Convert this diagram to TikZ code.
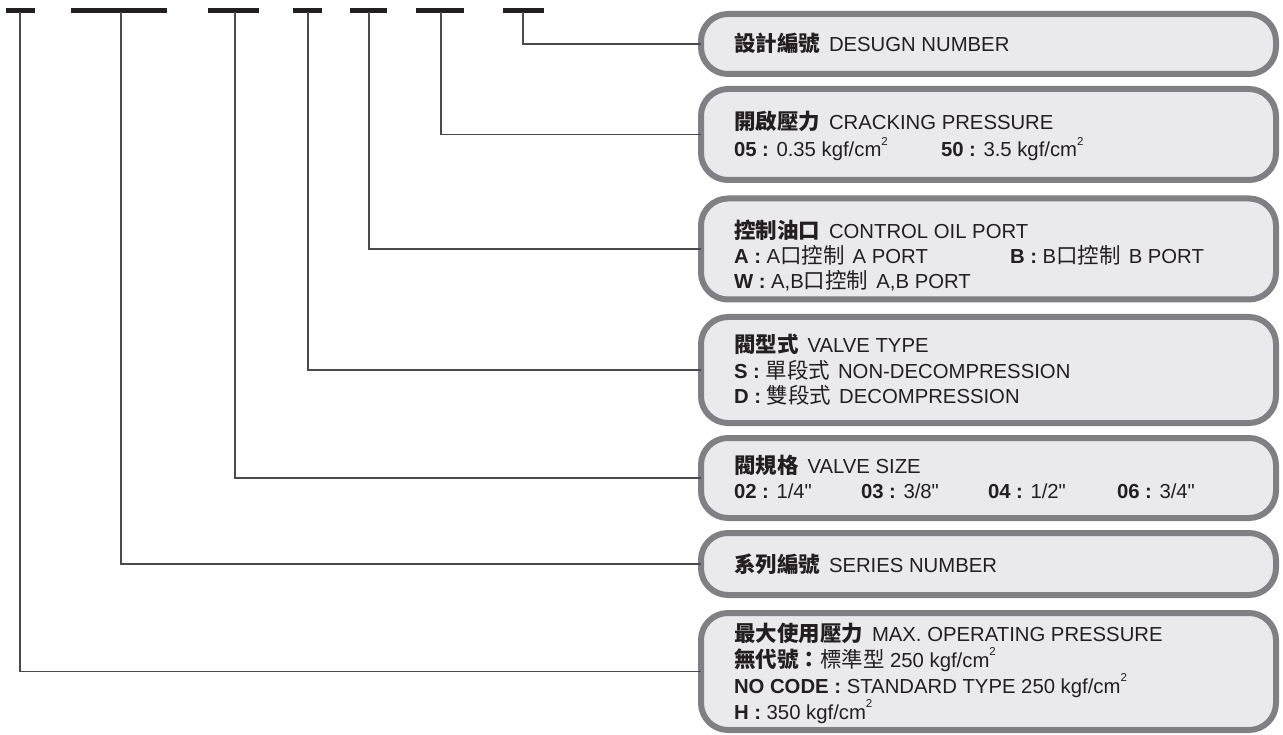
\documentclass[tikz,border=0pt]{standalone}
\usepackage{fontspec}
\setmainfont{Liberation Sans}
\newfontfamily\cjk{Noto Sans CJK TC}
\newfontfamily\inchfont{Liberation Sans}
\definecolor{boxfill}{HTML}{EAEAEC}
\definecolor{boxline}{HTML}{808084}
\definecolor{ink}{HTML}{231F20}
\definecolor{connc}{HTML}{4A4A4A}
\newcommand\zh[1]{{\cjk\fontsize{21.5}{24}\selectfont #1}}
\newcommand\sqr{\raisebox{0.55em}{\fontsize{11.5}{11.5}\selectfont 2}}
\newcommand\inch{{\inchfont\symbol{34}}}
\begin{document}
\begin{tikzpicture}[x=1pt,y=-1pt,
  box/.style={draw=boxline, fill=boxfill, line width=6pt, rounded corners=27pt,
    minimum width=575pt, inner sep=0pt, outer sep=0pt},
  txt/.style={anchor=base west, inner sep=0pt, outer sep=0pt, text=ink,
    font=\fontsize{20.3}{24}\selectfont},
  bar/.style={line width=4.5pt, draw=ink},
  conn/.style={draw=connc, line width=1.3pt}]
\useasboundingbox (0,0) rectangle (1283,735);

% top bars
\draw[bar] (6,10.5) -- (35,10.5);
\draw[bar] (71,10.5) -- (167,10.5);
\draw[bar] (208,10.5) -- (259,10.5);
\draw[bar] (293,10.5) -- (322,10.5);
\draw[bar] (350,10.5) -- (387,10.5);
\draw[bar] (416,10.5) -- (464,10.5);
\draw[bar] (503,10.5) -- (544,10.5);
\coordinate (t1) at (20,12.5);
\coordinate (t2) at (121,12.5);
\coordinate (t3) at (235,12.5);
\coordinate (t4) at (308,12.5);
\coordinate (t5) at (369,12.5);
\coordinate (t6) at (441,12.5);
\coordinate (t7) at (523,12.5);

% boxes
\node[box, minimum height=60pt]  (b1) at (988.5,44) {};
\node[box, minimum height=91pt]  (b2) at (988.5,134.5) {};
\node[box, minimum height=101pt] (b3) at (988.5,249) {};
\node[box, minimum height=106pt] (b4) at (988.5,370) {};
\node[box, minimum height=80pt]  (b5) at (988.5,478) {};
\node[box, minimum height=62pt]  (b6) at (988.5,564) {};
\node[box, minimum height=117pt] (b7) at (988.5,671.5) {};

% connectors
\draw[conn] (t7) |- (b1.west);
\draw[conn] (t6) |- (b2.west);
\draw[conn] (t5) |- (b3.west);
\draw[conn] (t4) |- (b4.west);
\draw[conn] (t3) |- (b5.west);
\draw[conn] (t2) |- (b6.west);
\draw[conn] (t1) |- (b7.west);

% box 1
\node[txt] (l11) at (734,52) {\textbf{\zh{設計編號}}\hspace{9pt}DESUGN NUMBER};
% box 2
\node[txt] (l21) at (734,130) {\textbf{\zh{開啟壓力}}\hspace{9pt}CRACKING PRESSURE};
\node[txt] (l22) at (734,157) {\textbf{05 :} 0.35 kgf/cm\sqr};
\node[txt] (l23) at (941,157) {\textbf{50 :} 3.5 kgf/cm\sqr};
% box 3
\node[txt] (l31) at (734,239) {\textbf{\zh{控制油口}}\hspace{9pt}CONTROL OIL PORT};
\node[txt] (l32) at (734,264) {\textbf{A :} A\zh{口控制}\hspace{8pt}A PORT};
\node[txt] (l33) at (1010,264) {\textbf{B :} B\zh{口控制}\hspace{8pt}B PORT};
\node[txt] (l34) at (734,289) {\textbf{W :} A,B\zh{口控制}\hspace{8pt}A,B PORT};
% box 4
\node[txt] (l41) at (734,353) {\textbf{\zh{閥型式}}\hspace{9pt}VALVE TYPE};
\node[txt] (l42) at (734,378) {\textbf{S :} \zh{單段式}\hspace{8pt}NON-DECOMPRESSION};
\node[txt] (l43) at (734,403) {\textbf{D :} \zh{雙段式}\hspace{8pt}DECOMPRESSION};
% box 5
\node[txt] (l51) at (734,473) {\textbf{\zh{閥規格}}\hspace{9pt}VALVE SIZE};
\node[txt] (l52) at (734,498) {\textbf{02 :} 1/4\inch};
\node[txt] (l53) at (861,498) {\textbf{03 :} 3/8\inch};
\node[txt] (l54) at (988,498) {\textbf{04 :} 1/2\inch};
\node[txt] (l55) at (1117,498) {\textbf{06 :} 3/4\inch};
% box 6
\node[txt] (l61) at (734,572) {\textbf{\zh{系列編號}}\hspace{9pt}SERIES NUMBER};
% box 7
\node[txt] (l71) at (734,641) {\textbf{\zh{最大使用壓力}}\hspace{9pt}MAX. OPERATING PRESSURE};
\node[txt] (l72) at (734,667) {\textbf{\zh{無代號：}}\zh{標準型} 250 kgf/cm\sqr};
\node[txt] (l73) at (734,693) {\textbf{NO CODE :} STANDARD TYPE 250 kgf/cm\sqr};
\node[txt] (l74) at (734,719) {\textbf{H :} 350 kgf/cm\sqr};
\end{tikzpicture}
\end{document}
